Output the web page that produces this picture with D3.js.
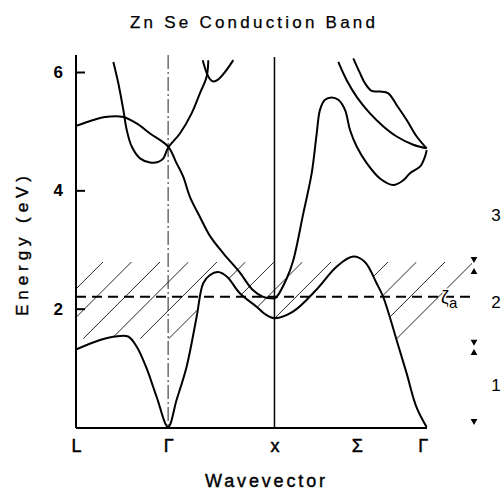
<!DOCTYPE html>
<html>
<head>
<meta charset="utf-8">
<script src="https://cdn.jsdelivr.net/npm/d3@7"></script>
<style>
  body { margin: 0; background: #fff; }
  text { font-family: "Liberation Sans", Arial, sans-serif; fill: #000; }
</style>
</head>
<body>
<svg width="504" height="495"></svg>
<script>
let width = 504,
    height = 495;

// wavevector positions (units of 2pi/a) and their labels
let kTicks = [0, 0.866, 1.866, 2.64, 3.26];
let kLabels = ["L", "Γ", "x", "Σ", "Γ"];
let eTicks = [2, 4, 6];

// bands, [k, E(eV)]
let band1 = [[0, 1.31], [0.226, 1.47], [0.367, 1.53], [0.49, 1.53], [0.57, 1.36], [0.664, 0.99],
  [0.758, 0.51], [0.866, 0.0], [0.946, 0.46], [1.04, 1.02], [1.134, 1.86], [1.196, 2.43],
  [1.26, 2.57], [1.335, 2.62], [1.42, 2.54], [1.54, 2.26], [1.70, 2.03], [1.776, 1.91],
  [1.866, 1.84], [2.04, 1.95], [2.26, 2.32], [2.45, 2.71], [2.606, 2.88], [2.716, 2.79],
  [2.826, 2.43], [2.888, 2.20], [2.95, 1.86], [3.014, 1.47], [3.108, 0.91], [3.20, 0.34],
  [3.296, 0.0]];
let band2 = [[0, 5.09], [0.163, 5.19], [0.273, 5.24], [0.445, 5.24], [0.57, 5.13], [0.696, 4.96],
  [0.866, 4.74], [0.945, 4.46], [1.008, 4.23], [1.071, 3.89], [1.165, 3.55], [1.259, 3.23],
  [1.387, 2.93], [1.536, 2.62], [1.66, 2.32], [1.76, 2.2], [1.866, 2.17]];
let band3 = [[1.866, 2.17], [1.887, 2.20], [1.981, 2.51], [2.043, 2.82], [2.137, 3.61],
  [2.216, 4.29], [2.263, 4.96], [2.294, 5.36], [2.341, 5.53], [2.404, 5.57], [2.466, 5.53],
  [2.529, 5.36], [2.576, 5.02], [2.639, 4.74], [2.733, 4.46], [2.858, 4.20], [2.983, 4.09],
  [3.077, 4.17], [3.14, 4.29], [3.234, 4.40], [3.281, 4.57], [3.297, 4.68]];
let band4 = [[0.351, 6.17], [0.398, 5.81], [0.445, 5.36], [0.477, 5.02], [0.524, 4.74],
  [0.602, 4.54], [0.696, 4.47], [0.774, 4.48], [0.821, 4.54], [0.866, 4.72], [0.977, 4.96],
  [1.087, 5.30], [1.165, 5.64], [1.228, 5.92], [1.244, 6.20]];
let band5 = [[1.191, 6.20], [1.232, 5.97], [1.26, 5.88], [1.291, 5.84], [1.335, 5.87],
  [1.401, 6.0], [1.479, 6.20]];
let band6 = [[2.466, 6.17], [2.545, 5.86], [2.639, 5.58], [2.764, 5.30], [2.89, 5.08],
  [3.015, 4.91], [3.171, 4.77], [3.297, 4.71]];
let band7 = [[2.607, 6.23], [2.67, 5.98], [2.717, 5.81], [2.78, 5.68], [2.858, 5.67],
  [2.936, 5.64], [3.015, 5.44], [3.109, 5.19], [3.203, 4.91], [3.297, 4.71]];

let zetaA = 2.2;              // dashed level
let hatchTop = 2.79, hatchBottom = 1.49;

// right-hand markers
let subLabels = ["3", "2", "1"];
let subE = [3.58, 2.11, 0.71];
let markDown = [2.84, 1.44, 0.10];
let markUp = [2.62, 1.25];

let x = d3.scaleLinear().domain([0, 3.3]).range([76, 427]);
let y = d3.scaleLinear().domain([0, 6]).range([427, 72]);

let svg = d3.select("svg");

let line = d3.line()
    .x(d => x(d[0]))
    .y(d => y(d[1]))
    .curve(d3.curveCatmullRom.alpha(0.5));

// hatched region
svg.append("clipPath")
    .attr("id", "hclip")
  .append("rect")
    .attr("x", x(0))
    .attr("y", y(hatchTop))
    .attr("width", 472 - x(0))
    .attr("height", y(hatchBottom) - y(hatchTop));

let yb = y(hatchBottom), yt = y(hatchTop);
let cs = d3.range(14).map(i => x(0) + yt + 27 + i * 28.5);
svg.append("g")
    .attr("clip-path", "url(#hclip)")
  .selectAll("line")
  .data(cs)
  .enter().append("line")
    .attr("x1", c => c - yb)
    .attr("y1", yb)
    .attr("x2", c => c - yt)
    .attr("y2", yt)
    .attr("stroke", "#111")
    .attr("stroke-width", 0.9);

// blank out hatching below the lowest band
svg.append("path")
    .datum(band1)
    .attr("fill", "#fff")
    .attr("d", d3.area()
      .x(d => x(d[0]))
      .y0(y(0))
      .y1(d => y(d[1]))
      .curve(d3.curveCatmullRom.alpha(0.5)));

// symmetry lines
svg.append("line")
    .attr("x1", x(0.866)).attr("x2", x(0.866))
    .attr("y1", 55).attr("y2", y(0))
    .attr("stroke", "#222")
    .attr("stroke-width", 1)
    .attr("stroke-dasharray", "14,3,2,3");
svg.append("line")
    .attr("x1", x(1.866)).attr("x2", x(1.866))
    .attr("y1", 57).attr("y2", y(0))
    .attr("stroke", "#000")
    .attr("stroke-width", 1.5);

// dashed level
svg.append("line")
    .attr("x1", x(0)).attr("x2", 470)
    .attr("y1", y(zetaA)).attr("y2", y(zetaA))
    .attr("stroke", "#000")
    .attr("stroke-width", 2)
    .attr("stroke-dasharray", "10,6");

// bands
svg.append("g")
  .selectAll("path")
  .data([band1, band2, band3, band4, band5, band6, band7])
  .enter().append("path")
    .attr("d", line)
    .attr("fill", "none")
    .attr("stroke", "#000")
    .attr("stroke-width", 2);

// axes
svg.append("line")
    .attr("x1", x(0)).attr("x2", x(0))
    .attr("y1", 55).attr("y2", y(0) + 1)
    .attr("stroke", "#000").attr("stroke-width", 2);
svg.append("line")
    .attr("x1", x(0)).attr("x2", x(3.3))
    .attr("y1", y(0) + 1).attr("y2", y(0) + 1)
    .attr("stroke", "#000").attr("stroke-width", 2);

let yAxis = svg.append("g")
    .attr("transform", "translate(" + x(0) + ",0)")
    .call(d3.axisLeft(y).tickValues(eTicks).tickSize(-9).tickPadding(13).tickFormat(d3.format("d")));
yAxis.select(".domain").remove();
yAxis.selectAll(".tick line").attr("stroke-width", 2);
yAxis.selectAll(".tick text")
    .attr("font-size", 17)
    .attr("font-weight", "bold")
    .attr("font-family", "Liberation Sans, Arial, sans-serif");

let xAxis = svg.append("g")
    .attr("transform", "translate(0," + y(0) + ")")
    .call(d3.axisBottom(x).tickValues(kTicks).tickSize(0).tickPadding(12)
      .tickFormat((d, i) => kLabels[i]));
xAxis.select(".domain").remove();
xAxis.selectAll(".tick text")
    .attr("font-size", 18)
    .attr("stroke", "#000")
    .attr("stroke-width", 0.5)
    .attr("font-family", "Liberation Sans, Arial, sans-serif");

// zeta_a label
let zl = svg.append("text")
    .attr("x", 441)
    .attr("y", y(zetaA) + 6)
    .attr("font-size", 18)
    .attr("stroke", "#fff")
    .attr("stroke-width", 3)
    .attr("paint-order", "stroke");
zl.append("tspan").text("ζ");
zl.append("tspan").attr("font-size", 15).attr("dy", 5).text("a");

// right-hand markers
let tri = d3.symbol().type(d3.symbolTriangle).size(20);
svg.append("g")
  .selectAll("path.dn")
  .data(markDown)
  .enter().append("path")
    .attr("d", tri)
    .attr("transform", d => "translate(474," + y(d) + ") rotate(180)");
svg.append("g")
  .selectAll("path.up")
  .data(markUp)
  .enter().append("path")
    .attr("d", tri)
    .attr("transform", d => "translate(474," + y(d) + ")");
svg.append("g")
  .selectAll("text")
  .data(subLabels)
  .enter().append("text")
    .attr("x", 496)
    .attr("y", (d, i) => y(subE[i]))
    .attr("dy", "0.35em")
    .attr("text-anchor", "middle")
    .attr("font-size", 17)
    .text(d => d);

// titles
svg.append("text")
    .attr("x", 252.5).attr("y", 28)
    .attr("text-anchor", "middle")
    .attr("font-size", 17)
    .attr("stroke", "#000").attr("stroke-width", 0.25)
    .attr("textLength", 245).attr("lengthAdjust", "spacing")
    .text("Zn Se Conduction Band");
svg.append("text")
    .attr("x", 265).attr("y", 487)
    .attr("text-anchor", "middle")
    .attr("font-size", 18)
    .attr("stroke", "#000").attr("stroke-width", 0.4)
    .attr("textLength", 120).attr("lengthAdjust", "spacing")
    .text("Wavevector");
svg.append("text")
    .attr("transform", "translate(28,246) rotate(-90)")
    .attr("text-anchor", "middle")
    .attr("font-size", 17)
    .attr("stroke", "#000").attr("stroke-width", 0.4)
    .attr("textLength", 140).attr("lengthAdjust", "spacing")
    .text("Energy (eV)");
</script>
</body>
</html>
